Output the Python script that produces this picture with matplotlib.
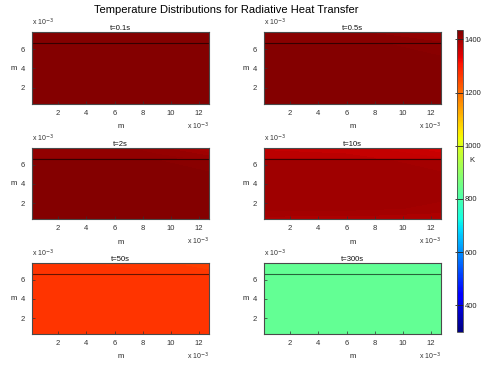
import numpy as np
import matplotlib
matplotlib.use("Agg")
import matplotlib.pyplot as plt

plt.rcParams['font.family'] = ['Liberation Sans', 'DejaVu Sans']

# ---- data (coordinates in units of 1e-3 m, temperatures in K) ----
titles = ["t=0.1s", "t=0.5s", "t=2s", "t=10s", "t=50s", "t=300s"]
x_nodes = [0.15, 6.0, 9.0, 12.7]
y_nodes = [0.35, 1.5, 4.0, 6.5, 6.7, 7.75]
interface_y = 6.6

T_01 = [[1432, 1432, 1432, 1432],
        [1432, 1432, 1432, 1432],
        [1432, 1432, 1432, 1432],
        [1432, 1432, 1432, 1432],
        [1432, 1432, 1432, 1431],
        [1431, 1431, 1430, 1428]]
T_05 = [[1429, 1429, 1429, 1429],
        [1429, 1429, 1429, 1429],
        [1429, 1429, 1429, 1428],
        [1428, 1428, 1427, 1426],
        [1425, 1425, 1424, 1420],
        [1422, 1421, 1418, 1410]]
T_2 = [[1430, 1430, 1430, 1430],
       [1430, 1430, 1430, 1430],
       [1430, 1430, 1430, 1429],
       [1428, 1428, 1427, 1425],
       [1420, 1419, 1416, 1410],
       [1418, 1416, 1408, 1390]]
T_10 = [[1388, 1388, 1387, 1385],
        [1403, 1402, 1400, 1397],
        [1405, 1405, 1405, 1404],
        [1404, 1403, 1399, 1394],
        [1374, 1373, 1370, 1364],
        [1370, 1368, 1362, 1350]]
T_50 = [[1272, 1272, 1272, 1271],
        [1272, 1272, 1272, 1271],
        [1272, 1272, 1271, 1270],
        [1271, 1271, 1270, 1268],
        [1268, 1268, 1266, 1262],
        [1266, 1265, 1261, 1252]]
T_300 = [[838, 838, 838, 838],
         [838, 838, 838, 838],
         [838, 838, 838, 837],
         [837, 837, 836, 835],
         [836, 836, 834, 830],
         [834, 833, 829, 818]]
fields = [T_01, T_05, T_2, T_10, T_50, T_300]

x_ticks = [2, 4, 6, 8, 10, 12]
y_ticks = [2, 4, 6]
cbar_ticks = [400, 600, 800, 1000, 1200, 1400]
t_min, t_max = 300, 1435

# ---- figure ----
W, H = 484, 365
fig = plt.figure(figsize=(W / 100, H / 100), dpi=100)

def rect(l, t, r, b):
    return [l / W, 1 - b / H, (r - l) / W, (b - t) / H]

cols = [(32, 209), (264, 441)]
rows = [(32, 104), (148, 219), (263, 334)]

cmap = plt.get_cmap('jet')
norm = matplotlib.colors.Normalize(vmin=t_min, vmax=t_max)
levels = np.arange(t_min, t_max + 8, 7.0)
X, Y = np.meshgrid(x_nodes, y_nodes)

edge = '#4a4a4a'
txt = '#333333'
for i, (title, T) in enumerate(zip(titles, fields)):
    r, c = divmod(i, 2)
    l, rr = cols[c]
    t, b = rows[r]
    ax = fig.add_axes(rect(l, t, rr, b))
    ax.contourf(X, Y, np.array(T, dtype=float), levels=levels, cmap=cmap,
                norm=norm, antialiased=False)
    ax.axhline(interface_y, color='black', lw=0.8, alpha=0.6)
    ax.set_xlim(x_nodes[0], x_nodes[-1])
    ax.set_ylim(y_nodes[0], y_nodes[-1])
    ax.set_xticks(x_ticks)
    ax.set_yticks(y_ticks)
    ax.tick_params(direction='in', length=2, width=0.5, labelsize=5.5,
                   colors=txt)
    ax.tick_params(axis='y', pad=5)
    ax.tick_params(axis='x', pad=4)
    for s in ax.spines.values():
        s.set_color(edge)
        s.set_linewidth(0.8)
    ax.set_xlabel('m', fontsize=5.5, labelpad=5, color='#222222')
    ax.set_ylabel('m', fontsize=5.5, labelpad=3, color='#222222', rotation=0,
                  va='center', ha='right')
    ax.set_title(title, fontsize=5.5, pad=0.5, color='#111111')
    ax.text(0.0, 1.05, r'x 10$^{-3}$', transform=ax.transAxes,
            fontsize=5, ha='left', va='bottom', color=txt)
    ax.text(1.0, -0.36, r'x 10$^{-3}$', transform=ax.transAxes,
            fontsize=5, ha='right', va='baseline', color=txt)

cax = fig.add_axes(rect(457, 30, 463, 332))
sm = matplotlib.cm.ScalarMappable(norm=norm, cmap=cmap)
cb = fig.colorbar(sm, cax=cax)
cb.set_ticks(cbar_ticks)
cb.ax.tick_params(direction='in', length=6, width=0.6, labelsize=5.5,
                  colors='#222222', pad=1)
cb.outline.set_edgecolor(edge)
cb.outline.set_linewidth(0.6)
fig.text(472 / W, 1 - 160 / H, 'K', fontsize=5.5, ha='center', va='center',
         color='#222222')

fig.text(226 / W, 1 - 10 / H, 'Temperature Distributions for Radiative Heat Transfer',
         fontsize=8, ha='center', va='center')

fig.savefig('out.png', dpi=100)
